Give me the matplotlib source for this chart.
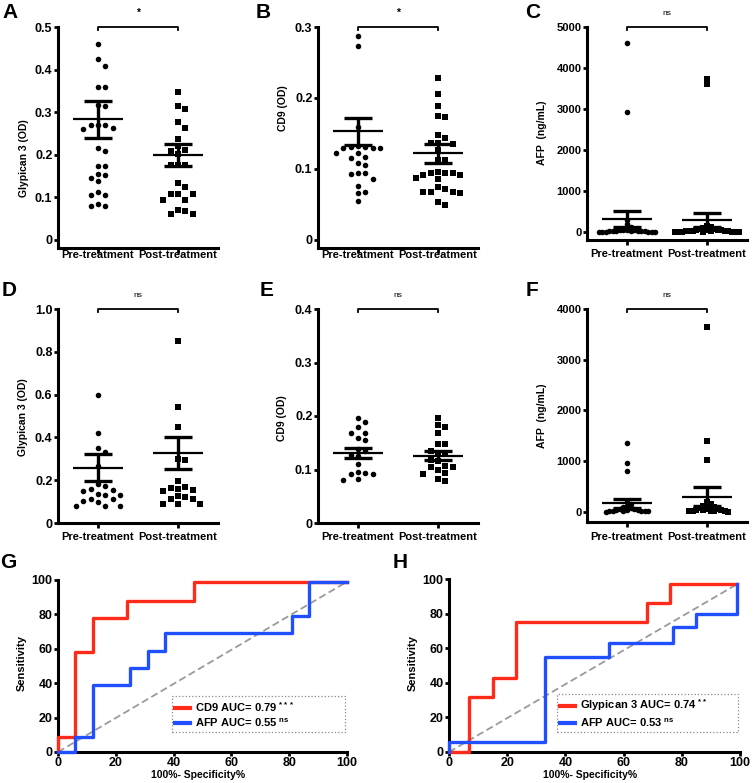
import numpy as np
import matplotlib
matplotlib.use("Agg")
import matplotlib.pyplot as plt

plt.rcParams['font.family'] = ['Liberation Sans', 'DejaVu Sans']
plt.rcParams['font.weight'] = 'bold'
plt.rcParams['axes.labelweight'] = 'bold'
plt.rcParams['mathtext.default'] = 'regular'

groups = ["Pre-treatment", "Post-treatment"]

# A - Glypican 3 (OD)
A_pre = [0.459, 0.425, 0.409, 0.358, 0.358, 0.318, 0.314, 0.270, 0.262, 0.270, 0.260, 0.270,
         0.216, 0.209, 0.174, 0.174, 0.156, 0.152, 0.145, 0.139, 0.112, 0.105, 0.105,
         0.085, 0.079, 0.079]
A_post = [0.348, 0.314, 0.307, 0.276, 0.264, 0.238, 0.220, 0.209, 0.203, 0.212, 0.176, 0.176,
          0.176, 0.133, 0.125, 0.109, 0.109, 0.109, 0.093, 0.093, 0.071, 0.069, 0.062, 0.062]
A_mean = [0.283, 0.200]
A_sem = [0.043, 0.026]

# B - CD9 (OD)
B_pre = [0.287, 0.273, 0.159, 0.132, 0.131, 0.131, 0.130, 0.130, 0.129, 0.122, 0.122, 0.117,
         0.115, 0.108, 0.105, 0.095, 0.094, 0.093, 0.086, 0.076, 0.067, 0.066, 0.055]
B_post = [0.228, 0.206, 0.189, 0.174, 0.173, 0.148, 0.144, 0.137, 0.136, 0.135, 0.127, 0.113,
          0.112, 0.096, 0.094, 0.094, 0.094, 0.091, 0.091, 0.088, 0.086, 0.074, 0.072, 0.068,
          0.067, 0.067, 0.066, 0.054, 0.049]
B_mean = [0.153, 0.122]
B_sem = [0.019, 0.013]

# C - AFP (ng/mL)
C_pre = [4600, 2930, 300, 190, 110, 60, 50, 45, 40, 35, 30, 30, 25, 20, 20, 15, 12, 10, 8, 5, 5, 3]
C_post = [3720, 3620, 150, 110, 90, 80, 70, 60, 50, 45, 40, 35, 30, 25, 20, 18, 15, 12, 10, 8,
          5, 5, 3, 2]
C_mean = [320, 290]
C_sem = [190, 180]

# D - Glypican 3 (OD), second cohort
D_pre = [0.60, 0.42, 0.35, 0.33, 0.265, 0.18, 0.175, 0.16, 0.155, 0.15, 0.135, 0.13, 0.13,
         0.11, 0.11, 0.105, 0.10, 0.08, 0.08, 0.08]
D_post = [0.85, 0.54, 0.45, 0.30, 0.295, 0.195, 0.17, 0.165, 0.16, 0.15, 0.155, 0.125, 0.12,
          0.11, 0.11, 0.09, 0.088, 0.088]
D_mean = [0.258, 0.327]
D_sem = [0.064, 0.075]

# E - CD9 (OD), second cohort
E_pre = [0.197, 0.189, 0.179, 0.169, 0.168, 0.158, 0.155, 0.138, 0.135, 0.128, 0.125, 0.11,
         0.096, 0.093, 0.092, 0.092, 0.082, 0.081]
E_post = [0.196, 0.183, 0.18, 0.169, 0.147, 0.147, 0.135, 0.13, 0.13, 0.118, 0.115, 0.106,
          0.104, 0.10, 0.104, 0.093, 0.092, 0.079, 0.083]
E_mean = [0.131, 0.126]
E_sem = [0.0095, 0.009]

# F - AFP (ng/mL), second cohort
F_pre = [1350, 970, 800, 200, 150, 110, 90, 70, 60, 50, 40, 35, 30, 25, 20, 15, 12, 10, 8, 5]
F_post = [3650, 1400, 1020, 200, 150, 130, 110, 90, 80, 70, 60, 50, 40, 35, 30, 25, 20, 15,
          10, 8, 5]
F_mean = [170, 302]
F_sem = [92, 190]

# ROC curves (100%-specificity, sensitivity)
G_cd9_x = [0, 0, 6, 6, 12, 12, 24, 24, 47, 47, 100]
G_cd9_y = [0, 9, 9, 58, 58, 78, 78, 88, 88, 99, 99]
G_afp_x = [0, 6, 6, 12, 12, 25, 25, 31, 31, 37, 37, 81, 81, 87, 87, 100]
G_afp_y = [0, 0, 9, 9, 39, 39, 49, 49, 59, 59, 69, 69, 79, 79, 99, 99]
H_gpc_x = [0, 7, 7, 15, 15, 23, 23, 68, 68, 76, 76, 99]
H_gpc_y = [0, 0, 32, 32, 43, 43, 75, 75, 86, 86, 97, 97]
H_afp_x = [0, 0, 33, 33, 55, 55, 77, 77, 85, 85, 99, 99]
H_afp_y = [0, 6, 6, 55, 55, 63, 63, 72, 72, 80, 80, 97]

W, H = 753, 783
fig = plt.figure(figsize=(W / 100, H / 100), dpi=100)
fig.patch.set_facecolor('white')


def box(l, t, r, b):
    return fig.add_axes([l / W, 1 - b / H, (r - l) / W, (b - t) / H])


def swarm(vals, ppu, d):
    # simple beeswarm: offsets in pixels
    vals = np.asarray(vals, float)
    res = np.zeros(len(vals))
    placed = []
    for i in np.argsort(vals)[::-1]:
        y = vals[i] * ppu
        k = 0
        while True:
            cand = ((k + 1) // 2) * (1 if k % 2 == 1 else -1) * d * 1.04
            if all((cand - px) ** 2 + (y - py) ** 2 >= d * d * 0.98 for px, py in placed):
                break
            k += 1
        placed.append((cand, y))
        res[i] = cand
    return res


def style(ax, fs):
    for s in ['top', 'right']:
        ax.spines[s].set_visible(False)
    for s in ['left', 'bottom']:
        ax.spines[s].set_linewidth(2.2)
    ax.tick_params(axis='y', length=3, width=2, pad=1, labelsize=fs)


def column_panel(ax, pre, post, mean, sem, ylim, yticks, ylabels, ylabel, labpos, letter,
                 letpos, sig, fs, d, xpad):
    ax.set_xlim(-0.5, 1.5)
    ax.set_ylim(*ylim)
    style(ax, fs)
    ppu = ax.bbox.height / (ylim[1] - ylim[0])
    ppx = ax.bbox.width / 2.0
    for i, (vals, mk, ms) in enumerate([(pre, 'o', 4.0), (post, 's', 3.7)]):
        off = swarm(vals, ppu, d) / ppx
        ax.plot(i + off, vals, mk, color='black', ms=ms, mew=0, clip_on=False, zorder=3)
        ax.hlines(mean[i], i - 0.31, i + 0.31, color='black', lw=1.6, zorder=4)
        ax.hlines([mean[i] - sem[i], mean[i] + sem[i]], i - 0.18, i + 0.18, color='black',
                  lw=2.4, zorder=4)
        ax.vlines(i, mean[i] - sem[i], mean[i] + sem[i], color='black', lw=2.4, zorder=4)
    top = ylim[1]
    dy = 3 / ppu
    ax.plot([0, 0, 1, 1], [top - dy, top, top, top - dy], color='black', lw=1.3,
            clip_on=False)
    ax.annotate(sig, (0.5, top), xytext=(0, 10), textcoords='offset points', ha='center',
                va='center', fontsize=6 if sig == 'ns' else 7.5,
                weight='normal' if sig == 'ns' else 'bold')
    ax.set_yticks(yticks)
    ax.set_yticklabels(ylabels)
    ax.set_xticks([0, 1])
    ax.set_xticklabels(groups, fontsize=8)
    ax.tick_params(axis='x', length=3.6, width=2, pad=xpad)
    ax.set_ylabel(ylabel, fontsize=7.5)
    ax.yaxis.set_label_coords(labpos[0] / W, 1 - labpos[1] / H, transform=fig.transFigure)
    fig.text(letpos[0] / W, 1 - letpos[1] / H, letter, fontsize=15, weight='bold',
             ha='center', va='center')


column_panel(box(58, 27, 218, 248), A_pre, A_post, A_mean, A_sem, (-0.0188, 0.5),
             [0, 0.1, 0.2, 0.3, 0.4, 0.5], ['0', '0.1', '0.2', '0.3', '0.4', '0.5'],
             'Glypican 3 (OD)', (29, 158), 'A', (10, 13), '*', 9, 7, -2.5)
column_panel(box(318, 27, 478, 248), B_pre, B_post, B_mean, B_sem, (-0.0113, 0.3),
             [0, 0.1, 0.2, 0.3], ['0', '0.1', '0.2', '0.3'],
             'CD9 (OD)', (288, 108), 'B', (263, 13), '*', 9, 7, -2.5)
column_panel(box(587, 27, 747, 240), C_pre, C_post, C_mean, C_sem, (-195, 5000),
             [0, 1000, 2000, 3000, 4000, 5000], ['0', '1000', '2000', '3000', '4000', '5000'],
             'AFP  (ng/mL)', (547, 133), 'C', (533, 13), 'ns', 8, 3.4, 2.9)
column_panel(box(58, 309, 218, 523), D_pre, D_post, D_mean, D_sem, (0, 1.0),
             [0, 0.2, 0.4, 0.6, 0.8, 1.0], ['0', '0.2', '0.4', '0.6', '0.8', '1.0'],
             'Glypican 3 (OD)', (28, 417), 'D', (9, 290), 'ns', 9, 7, 2.9)
column_panel(box(318, 309, 478, 523), E_pre, E_post, E_mean, E_sem, (0, 0.4),
             [0, 0.1, 0.2, 0.3, 0.4], ['0', '0.1', '0.2', '0.3', '0.4'],
             'CD9 (OD)', (287, 418), 'E', (267, 290), 'ns', 9, 7, 2.9)
column_panel(box(587, 309, 747, 522), F_pre, F_post, F_mean, F_sem, (-200, 4000),
             [0, 1000, 2000, 3000, 4000], ['0', '1000', '2000', '3000', '4000'],
             'AFP  (ng/mL)', (547, 416), 'F', (532, 290), 'ns', 8, 3.4, 3.6)

RED = '#ff2a1a'
BLUE = '#1f4fff'


def roc_panel(ax, x1, y1, lab1, x2, y2, lab2, legbox, labx, letter, letpos):
    ax.set_xlim(0, 100)
    ax.set_ylim(0, 100)
    style(ax, 9)
    ax.plot([0, x1[-1]], [0, y1[-1]], color='#9a9a9a', lw=1.3, dashes=(4, 2), zorder=2)
    l1, = ax.plot(x1, y1, color=RED, lw=2.4, clip_on=False, zorder=3, label=lab1)
    l2, = ax.plot(x2, y2, color=BLUE, lw=2.4, clip_on=False, zorder=3, label=lab2)
    ax.set_xticks(range(0, 101, 20))
    ax.set_yticks(range(0, 101, 20))
    ax.tick_params(axis='x', length=3, width=2, pad=0.5, labelsize=9)
    ax.set_ylabel('Sensitivity', fontsize=8)
    ax.yaxis.set_label_coords(labx / W, 1 - 663 / H, transform=fig.transFigure)
    ax.set_xlabel('100%- Specificity%', fontsize=7.5)
    pos = ax.get_position()
    ax.xaxis.set_label_coords(pos.x0 + pos.width * 0.485, 1 - 770 / H,
                              transform=fig.transFigure)
    leg = ax.legend(handles=[l1, l2], loc='lower left', bbox_to_anchor=legbox, mode='expand',
                    borderaxespad=0, fontsize=8, handlelength=1.3, handletextpad=0.45,
                    labelspacing=0.25, borderpad=0.3, fancybox=False, framealpha=1)
    for hl in leg.get_lines():
        hl.set_linewidth(3)
    leg.get_frame().set_edgecolor('#8a8a8a')
    leg.get_frame().set_linestyle(':')
    leg.get_frame().set_linewidth(0.9)
    fig.text(letpos[0] / W, 1 - letpos[1] / H, letter, fontsize=15, weight='bold',
             ha='center', va='center')


roc_panel(box(58, 580, 347, 752), G_cd9_x, G_cd9_y, 'CD9 AUC= 0.79 $^{***}$',
          G_afp_x, G_afp_y, 'AFP AUC= 0.55 $^{ns}$', (0.394, 0.116, 0.599, 0.198), 27,
          'G', (8, 563))
roc_panel(box(449, 579, 740, 752), H_gpc_x, H_gpc_y, 'Glypican 3 AUC= 0.74 $^{**}$',
          H_afp_x, H_afp_y, 'AFP AUC= 0.53 $^{ns}$', (0.371, 0.116, 0.622, 0.202), 418,
          'H', (400, 563))

fig.savefig('out.png', dpi=100, facecolor='white')
